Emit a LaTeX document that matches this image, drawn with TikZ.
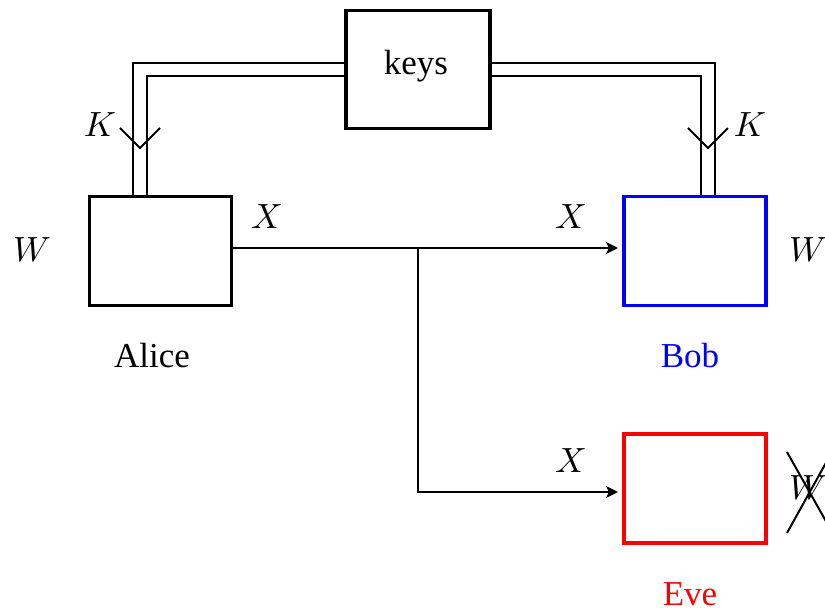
\documentclass[tikz,border=0pt]{standalone}
\usepackage{fontspec}
\setmainfont{Liberation Serif}
\usetikzlibrary{arrows.meta,calc}
\begin{document}
\begin{tikzpicture}[x=0.2857pt,y=-0.2857pt,
  party/.style={draw,line width=1pt,minimum width=40.6pt,minimum height=31.2pt,inner sep=0pt},
  keybox/.style={draw,line width=1pt,minimum width=41.2pt,minimum height=33.6pt,inner sep=0pt},
  chan/.style={line width=0.57pt,-{Stealth[length=3.4pt,width=3.4pt,inset=0.8pt]},shorten >=1.2pt},
  keyline/.style={line width=0.6pt,double,double distance=3.2pt},
  vmark/.style={line width=0.57pt},
  lbl/.style={inner sep=0pt,font=\fontsize{10}{12}\selectfont}]
\useasboundingbox (0,0) rectangle (825,608);

% boxes
\node[keybox] (keys) at (418,69.5) {};
\node[lbl] (keystxt) at (416,66) {keys};
\node[party] (alice) at (160.5,251) {};
\node[party,draw=blue] (bob) at (695,251) {};
\node[party,draw=red] (eve) at (695,488.5) {};

% names
\node[lbl] (alicename) at (152,356) {Alice};
\node[lbl,text=blue] (bobname) at (690,356) {Bob};
\node[lbl,text=red] (evename) at (690,594) {Eve};

% key distribution (double lines)
\coordinate (kl) at (140,69.5);
\coordinate (kr) at (708,69.5);
\draw[keyline] (keys.west) -- (kl) -- (kl |- alice.north);
\draw[keyline] (keys.east) -- (kr) -- (kr |- bob.north);
\coordinate (vl) at (140,148);
\coordinate (vr) at (708,148);
\draw[vmark] ($(vl)+(-20,-20)$) -- (vl) -- ($(vl)+(20,-20)$);
\draw[vmark] ($(vr)+(-20,-20)$) -- (vr) -- ($(vr)+(20,-20)$);
\node[lbl] (kla) at (100,125) {$K$};
\node[lbl] (kra) at (750,125) {$K$};

% public channel
\coordinate (a0) at ($(alice.east)+(0,-3)$);
\coordinate (br) at (418,248);
\coordinate (bd) at (418,492);
\draw[chan] (a0) -- (a0 -| bob.west);
\draw[chan] (br) -- (bd) -- (bd -| eve.west);
\node[lbl] (x1) at (267,217) {$X$};
\node[lbl] (x2) at (571,217) {$X$};
\node[lbl] (x3) at (571,461) {$X$};

% secrets
\node[lbl] (wa) at (32,250) {$W$};
\node[lbl] (wb) at (808,250) {$W$};
\node[lbl] (we) at (808,488) {$W$};
\draw[vmark] ($(we)+(-21,-36)$) -- ($(we)+(24,44)$);
\draw[vmark] ($(we)+(24,-36)$) -- ($(we)+(-21,45)$);
\end{tikzpicture}
\end{document}
